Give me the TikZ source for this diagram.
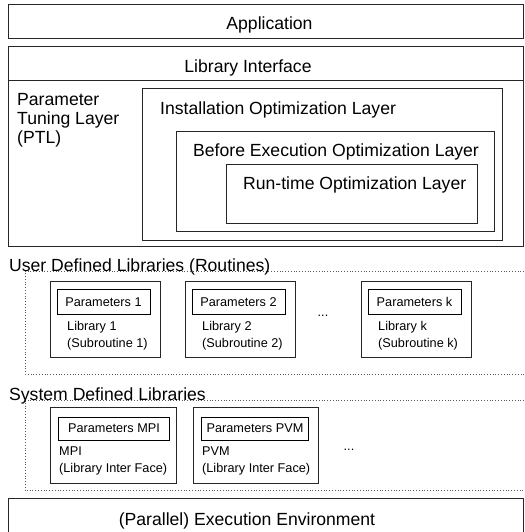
\documentclass[tikz,border=0pt]{standalone}
\usepackage{fontspec}
\setmainfont{Liberation Sans}
\usetikzlibrary{positioning}

\newcommand{\layerfont}{\fontsize{17.6}{19}\selectfont}
\newcommand{\libfont}{\fontsize{12.7}{17}\selectfont}

\tikzset{
  layerbox/.style={draw=black!85, line width=0.8pt, anchor=north west, inner sep=0pt, outer sep=0pt},
  libbox/.style={draw=black!85, line width=0.8pt, anchor=north west, inner sep=0pt, outer sep=0pt},
  parbox/.style={draw=black, line width=0.9pt, anchor=north west, inner sep=0pt, outer sep=0pt,
    text depth=0pt, font=\libfont},
  grouprule/.style={draw=black!65, line width=0.8pt, dotted},
  libtext/.style={anchor=north west, align=left, inner sep=0pt, font=\libfont},
}

\begin{document}
\begin{tikzpicture}[x=1pt, y=-1pt, font=\layerfont]
\useasboundingbox (0,0) rectangle (524,532);
\clip (0,0) rectangle (524,532);

% Application and library interface
\node[layerbox, minimum width=515, minimum height=34] (app) at (8,4) {};
\node[anchor=base] (applabel) at (269.5,30) {Application};

\node[layerbox, minimum width=515, minimum height=200] (libif) at (8,46) {};
\draw[black!85, line width=0.8pt] ([yshift=-34pt]libif.north west) -- ([yshift=-34pt]libif.north east);
\node[anchor=base] (liblabel) at (248,73) {Library Interface};
\node[anchor=north west, align=left, inner sep=0pt] (ptl) at (17,93.3) {Parameter\\Tuning Layer\\(PTL)};

% Nested optimization layers
\node[layerbox, minimum width=360, minimum height=152] (iol) at (142,88) {};
\node[anchor=base west, inner sep=0pt] (iollabel) at (160,114) {Installation Optimization Layer};
\node[layerbox, minimum width=318, minimum height=100] (beol) at (176,131) {};
\node[anchor=base west, inner sep=0pt] (beollabel) at (193,156) {Before Execution Optimization Layer};
\node[layerbox, minimum width=251, minimum height=59] (rtol) at (226,164) {};
\node[anchor=base west, inner sep=0pt] (rtollabel) at (243,189) {Run-time Optimization Layer};

% User defined libraries
\draw[grouprule] (524,271) -- (25,271) -- (25,374) -- (524,374);
\node[anchor=base west, inner sep=0pt] (udl) at (9,271) {User Defined Libraries (Routines)};
\foreach \n/\x in {1/50, 2/185, k/361} {
  \node[libbox, minimum width=110, minimum height=76] (lib\n) at (\x,281) {};
  \node[parbox, minimum width=93, minimum height=25] (par\n) at (\x+7,289.5) {Parameters \n};
  \node[libtext] (libtxt\n) at (\x+17,320.8) {Library \n\\(Subroutine \n)};
}
\node[anchor=base, font=\libfont] (udots) at (323,316) {...};

% System defined libraries
\draw[grouprule] (524,400.5) -- (25,400.5) -- (25,490.5) -- (524,490.5);
\node[anchor=base west, inner sep=0pt] (sdl) at (9,400.5) {System Defined Libraries};
\foreach \n/\x/\w/\pw in {MPI/50/126/111, PVM/193/125/107} {
  \node[libbox, minimum width=\w, minimum height=76] (sys\n) at (\x,407) {};
  \node[parbox, minimum width=\pw, minimum height=23] (par\n) at (\x+8.5,417) {Parameters \n};
  \node[libtext] (systxt\n) at (\x+9,446.8) {\n\\(Library Inter Face)};
}
\node[anchor=base, font=\libfont] (sdots) at (349,450) {...};

% Execution environment
\node[layerbox, minimum width=515, minimum height=60] (exec) at (8,498) {};
\node[anchor=base] (execlabel) at (247,525) {(Parallel) Execution Environment};
\end{tikzpicture}
\end{document}
